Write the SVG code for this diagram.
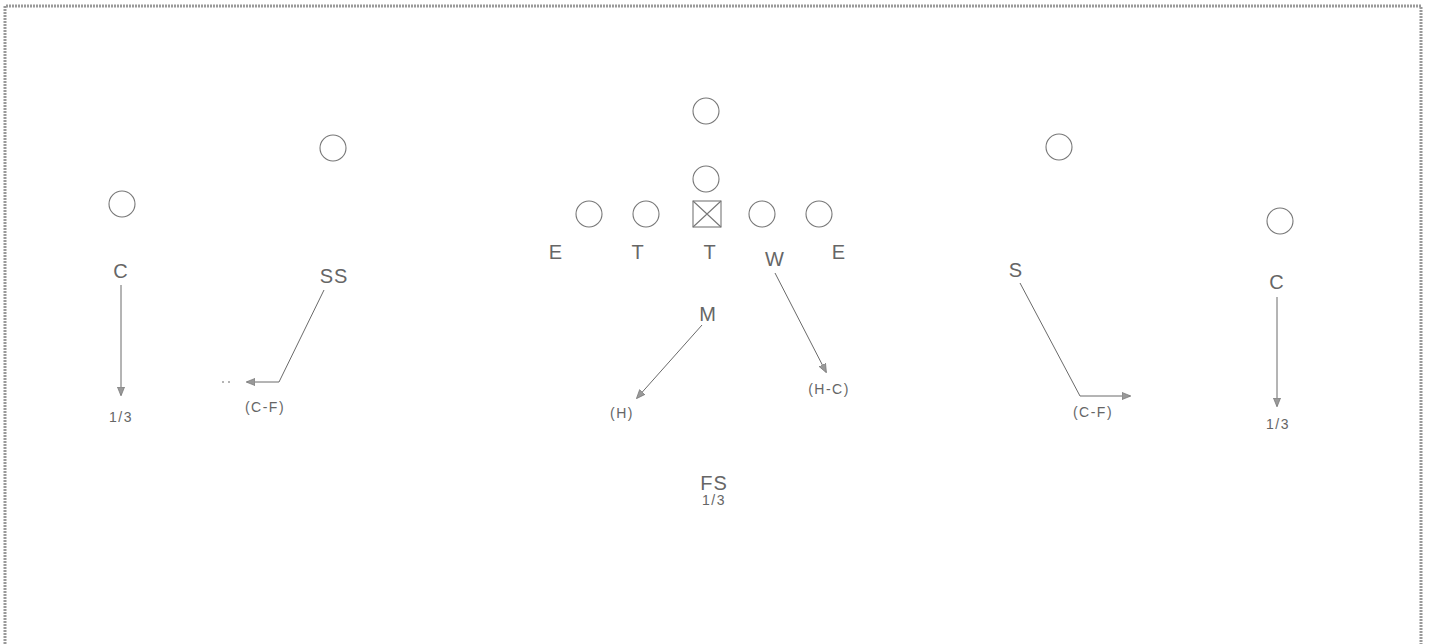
<svg xmlns="http://www.w3.org/2000/svg" width="1431" height="644" viewBox="0 0 1431 644">
<style>
.p{fill:none;stroke:#777;stroke-width:1.1}
.big{font-family:"Liberation Sans",Arial,sans-serif;font-size:20px;fill:#666;text-anchor:middle;letter-spacing:1px}
.sm{font-family:"Liberation Sans",Arial,sans-serif;font-size:14px;fill:#666;text-anchor:middle;letter-spacing:1.5px}
.c{fill:none;stroke:#6a6a6a;stroke-width:1}
</style>
<defs>
<marker id="ah" viewBox="0 0 10 10" refX="9" refY="5" markerWidth="9" markerHeight="9" markerUnits="userSpaceOnUse" orient="auto">
<path d="M0,1 L10,5 L0,9 Z" fill="#999" stroke="#777" stroke-width="0.8"/>
</marker>
</defs>
<rect width="1431" height="644" fill="#fff"/>
<path d="M5,644 V6 H1421 V644" fill="none" stroke="#9a9a9a" stroke-width="3" stroke-dasharray="2 1"/>

<g id="c-left"><circle class="p" cx="122" cy="204" r="13"/><text class="big" x="121" y="278">C</text></g>
<g id="ss"><circle class="p" cx="333" cy="148" r="13"/><text class="big" x="334" y="283">SS</text></g>
<g id="back1"><circle class="p" cx="706" cy="111" r="13"/></g>
<g id="back2"><circle class="p" cx="706" cy="179" r="13"/></g>
<g id="le"><circle class="p" cx="589" cy="214" r="13"/><text class="big" x="556" y="259">E</text></g>
<g id="lt"><circle class="p" cx="646" cy="214" r="13"/><text class="big" x="638" y="259">T</text></g>
<g id="center"><rect class="p" x="693" y="201" width="28" height="26"/><path class="p" d="M693,201 L721,227 M721,201 L693,227"/><text class="big" x="710" y="259">T</text></g>
<g id="rw"><circle class="p" cx="762" cy="214" r="13"/><text class="big" x="775" y="266">W</text></g>
<g id="re"><circle class="p" cx="819" cy="214" r="13"/><text class="big" x="839" y="259">E</text></g>
<g id="m"><text class="big" x="708" y="321">M</text></g>
<g id="s"><circle class="p" cx="1059" cy="147" r="13"/><text class="big" x="1016" y="277">S</text></g>
<g id="c-right"><circle class="p" cx="1280" cy="221" r="13"/><text class="big" x="1277" y="289">C</text></g>
<g id="fs"><text class="big" x="714" y="490">FS</text><text class="sm" x="714" y="505">1/3</text></g>

<g id="labels">
<text class="sm" x="121" y="422">1/3</text>
<text class="sm" x="265" y="412">(C-F)</text>
<text class="sm" x="622" y="418">(H)</text>
<text class="sm" x="829" y="394">(H-C)</text>
<text class="sm" x="1093" y="417">(C-F)</text>
<text class="sm" x="1278" y="429">1/3</text>
</g>

<g id="connectors">
<path class="c" d="M121,285 V395" marker-end="url(#ah)"/>
<path class="c" d="M324,290 L279,382 H247" marker-end="url(#ah)"/>
<path class="c" d="M222,382 h2 M228,382 h2"/>
<path class="c" d="M702,325 L637,398" marker-end="url(#ah)"/>
<path class="c" d="M775,273 L826,372" marker-end="url(#ah)"/>
<path class="c" d="M1020,283 L1080,396 H1130" marker-end="url(#ah)"/>
<path class="c" d="M1277,297 V406" marker-end="url(#ah)"/>
</g>
</svg>
